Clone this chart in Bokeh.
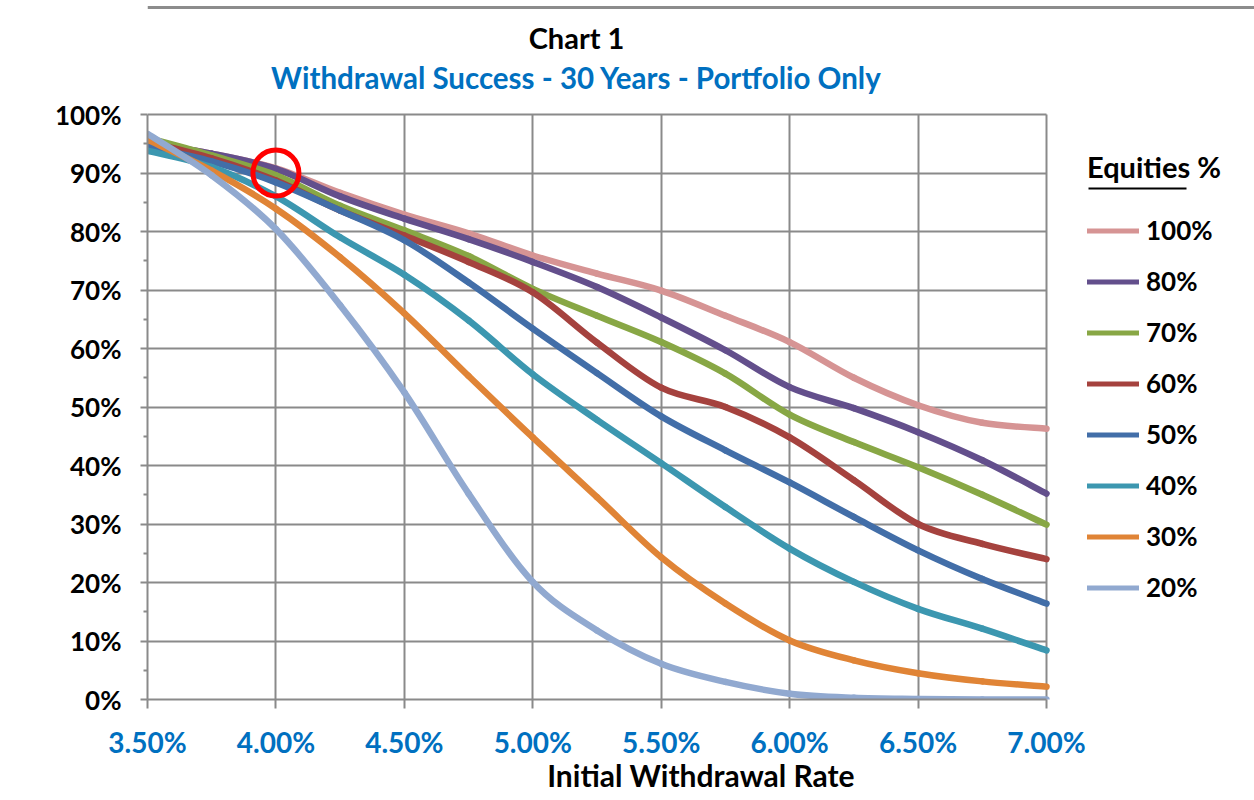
import numpy as np
from bokeh.plotting import figure
from bokeh.models import (FixedTicker, PrintfTickFormatter, Legend, LegendItem, Label,
                          BoxAnnotation, Span, Grid)
from bokeh.embed import file_html
from bokeh.resources import INLINE

# ---------------- data ----------------
rates = [3.50, 3.75, 4.00, 4.25, 4.50, 4.75, 5.00, 5.25, 5.50, 5.75, 6.00, 6.25, 6.50, 6.75, 7.00]

eq_100 = [95.0, 93.3, 90.8, 86.6, 82.9, 79.7, 75.9, 72.8, 69.9, 65.6, 61.1, 55.0, 50.3, 47.3, 46.3]
eq_80 = [95.0, 93.3, 90.7, 86.0, 82.2, 78.7, 74.8, 70.5, 65.3, 59.7, 53.4, 49.8, 45.7, 40.9, 35.2]
eq_70 = [96.0, 93.0, 89.6, 84.4, 80.2, 75.8, 70.2, 65.6, 61.1, 55.7, 48.7, 44.0, 39.7, 35.0, 29.9]
eq_60 = [95.3, 92.5, 88.7, 83.6, 79.3, 74.8, 69.6, 61.0, 53.3, 50.0, 44.8, 37.5, 30.0, 26.6, 24.0]
eq_50 = [94.5, 92.0, 88.4, 83.6, 78.5, 71.3, 63.4, 55.8, 48.4, 42.6, 37.1, 31.2, 25.5, 20.6, 16.4]
eq_40 = [93.8, 91.0, 86.0, 79.0, 72.6, 64.8, 55.6, 47.8, 40.4, 32.9, 25.8, 20.1, 15.5, 12.1, 8.4]
eq_30 = [95.7, 90.4, 83.9, 75.6, 66.0, 55.3, 44.8, 34.6, 24.3, 16.4, 10.1, 6.7, 4.5, 3.1, 2.2]
eq_20 = [96.7, 89.6, 80.4, 67.4, 52.5, 35.2, 20.1, 11.8, 6.1, 3.0, 1.0, 0.3, 0.1, 0.0, 0.0]

series_labels = ["100%", "80%", "70%", "60%", "50%", "40%", "30%", "20%"]
series_values = [eq_100, eq_80, eq_70, eq_60, eq_50, eq_40, eq_30, eq_20]
series_colors = ["#D69494", "#634F8C", "#88A745", "#A5423E", "#426EA8", "#3C97B0", "#E08436", "#91A9D0"]

x_ticks = [3.5, 4.0, 4.5, 5.0, 5.5, 6.0, 6.5, 7.0]
y_ticks = [0, 10, 20, 30, 40, 50, 60, 70, 80, 90, 100]
y_minor_ticks = [5, 15, 25, 35, 45, 55, 65, 75, 85, 95]

highlight_rate = [4.0]
highlight_success = [90.0]

title_text = "Chart 1"
subtitle_text = "Withdrawal Success - 30 Years - Portfolio Only"
x_label = "Initial Withdrawal Rate"
legend_title = "Equities %"

# ---------------- layout / style ----------------
FONT = "Lato"
GRID = "#8A8A8A"
BLUE_TXT = "#0070C0"
W, H = 1254, 800
PLOT_L, PLOT_R, PLOT_T, PLOT_B = 147, 1046, 114, 699   # plot-area edges in pixels
X0, X1, Y0, Y1 = 3.5, 7.0, 0.0, 100.0

px_x = (PLOT_R - PLOT_L) / (X1 - X0)
px_y = (PLOT_B - PLOT_T) / (Y1 - Y0)
# the drawing frame runs to the right and top edges of the canvas so that the
# titles and the legend can live inside it
x_end = X0 + (W - PLOT_L) / px_x
y_end = Y0 + PLOT_B / px_y


def px_to_x(px):
    return X0 + (px - PLOT_L) / px_x


def px_to_y(py):
    return Y0 + (PLOT_B - py) / px_y


def smooth_segments(xs, ys):
    """Bezier control points for an Excel-style 'smoothed line' through the points."""
    P = np.column_stack([np.asarray(xs, float), np.asarray(ys, float)])
    n = len(P)
    out = {k: [] for k in ("x0", "y0", "x1", "y1", "cx0", "cy0", "cx1", "cy1")}
    for i in range(n - 1):
        pm = P[max(i - 1, 0)]
        p1 = P[i]
        p2 = P[i + 1]
        pp = P[min(i + 2, n - 1)]
        c1 = p1 + (p2 - pm) / 6.0
        c2 = p2 - (pp - p1) / 6.0
        for k, v in (("x0", p1[0]), ("y0", p1[1]), ("x1", p2[0]), ("y1", p2[1]),
                     ("cx0", c1[0]), ("cy0", c1[1]), ("cx1", c2[0]), ("cy1", c2[1])):
            out[k].append(v)
    return out


p = figure(width=W, height=H, x_range=(X0, x_end), y_range=(Y0, y_end),
           output_backend="svg", toolbar_location=None,
           min_border_left=PLOT_L, min_border_right=0, min_border_top=0,
           min_border_bottom=H - PLOT_B)
p.background_fill_color = "white"
p.border_fill_color = "white"
p.outline_line_color = None

# axes
p.xaxis.ticker = FixedTicker(ticks=x_ticks)
p.yaxis.ticker = FixedTicker(ticks=y_ticks, minor_ticks=y_minor_ticks)
p.xaxis.formatter = PrintfTickFormatter(format="%.2f%%")
p.yaxis.formatter = PrintfTickFormatter(format="%d%%")
p.xaxis.bounds = (X0, X1)
p.yaxis.bounds = (Y0, Y1)

for ax in (p.xaxis, p.yaxis):
    ax.axis_line_color = GRID
    ax.axis_line_width = 2
    ax.major_tick_line_color = GRID
    ax.major_tick_line_width = 2
    ax.major_tick_in = 0
    ax.minor_tick_in = 0
    ax.major_label_text_font = FONT
    ax.major_label_text_font_style = "bold"

p.yaxis.major_tick_out = 7
p.yaxis.minor_tick_out = 4
p.yaxis.minor_tick_line_color = GRID
p.yaxis.minor_tick_line_width = 2
p.yaxis.major_label_text_font_size = "26px"
p.yaxis.major_label_text_color = "black"
p.yaxis.major_label_standoff = 19

p.xaxis.major_tick_out = 9
p.xaxis.minor_tick_line_color = None
p.xaxis.major_label_text_font_size = "28px"
p.xaxis.major_label_text_color = BLUE_TXT
p.xaxis.major_label_standoff = 16
p.xaxis.axis_label = x_label
p.xaxis.axis_label_text_font = FONT
p.xaxis.axis_label_text_font_size = "30px"
p.xaxis.axis_label_text_font_style = "bold"
p.xaxis.axis_label_text_color = "black"
p.xaxis.axis_label_standoff = -5

# grid lines limited to the plot area
has_cross = "cross_bounds" in Grid.properties()
p.xgrid.grid_line_color = GRID
p.xgrid.grid_line_width = 2
p.ygrid.grid_line_color = GRID
p.ygrid.grid_line_width = 2
if has_cross:
    p.xgrid.cross_bounds = (Y0, Y1)
    p.ygrid.cross_bounds = (X0, X1)
else:
    p.xgrid.visible = False
    p.ygrid.visible = False
    p.segment(x0=x_ticks, x1=x_ticks, y0=[Y0] * len(x_ticks), y1=[Y1] * len(x_ticks),
              line_color=GRID, line_width=2)
    p.segment(x0=[X0] * len(y_ticks), x1=[X1] * len(y_ticks), y0=y_ticks, y1=y_ticks,
              line_color=GRID, line_width=2)

# outer chart border (top edge)
p.add_layout(Span(location=px_to_y(7), dimension="width", line_color="#8C8C8C", line_width=3))

# series
items = []
for lab, vals, col in zip(series_labels, series_values, series_colors):
    seg = smooth_segments(rates, vals)
    p.bezier(source=seg, x0="x0", y0="y0", x1="x1", y1="y1", cx0="cx0", cy0="cy0",
             cx1="cx1", cy1="cy1", line_color=col, line_width=6.5, line_cap="round")
    r = p.line(x=rates, y=vals, line_color=col, line_width=5, line_cap="round", visible=False)
    items.append(LegendItem(label=lab, renderers=[r]))

# highlight circle
p.scatter(x=highlight_rate, y=highlight_success, marker="circle", size=46,
          fill_color=None, line_color="#FF0000", line_width=5)

# titles
title_cx = px_to_x(576)
p.add_layout(Label(x=title_cx, y=px_to_y(37), text=title_text, text_align="center",
                   text_baseline="middle", text_font=FONT, text_font_style="bold",
                   text_font_size="29px", text_color="black"))
p.add_layout(Label(x=title_cx, y=px_to_y(77), text=subtitle_text, text_align="center",
                   text_baseline="middle", text_font=FONT, text_font_style="bold",
                   text_font_size="29.5px", text_color=BLUE_TXT))

# legend
legend = Legend(items=items, location=(1087 - PLOT_L, PLOT_B - 603), title=legend_title,
                title_text_font=FONT, title_text_font_style="bold", title_text_font_size="29px",
                title_text_color="black", title_standoff=30,
                label_text_font=FONT, label_text_font_style="bold", label_text_font_size="26px",
                label_text_color="black", glyph_width=52, glyph_height=31, label_height=31,
                label_standoff=7, spacing=19, padding=0, margin=0,
                background_fill_alpha=0, border_line_color=None, inactive_fill_alpha=0)
p.add_layout(legend, "center")

# underline under "Equities"
p.add_layout(BoxAnnotation(left=px_to_x(1088), right=px_to_x(1186), bottom=px_to_y(189),
                           top=px_to_y(187), fill_color="black", fill_alpha=1, line_color=None))

open("out.html", "w").write(file_html(p, INLINE))
